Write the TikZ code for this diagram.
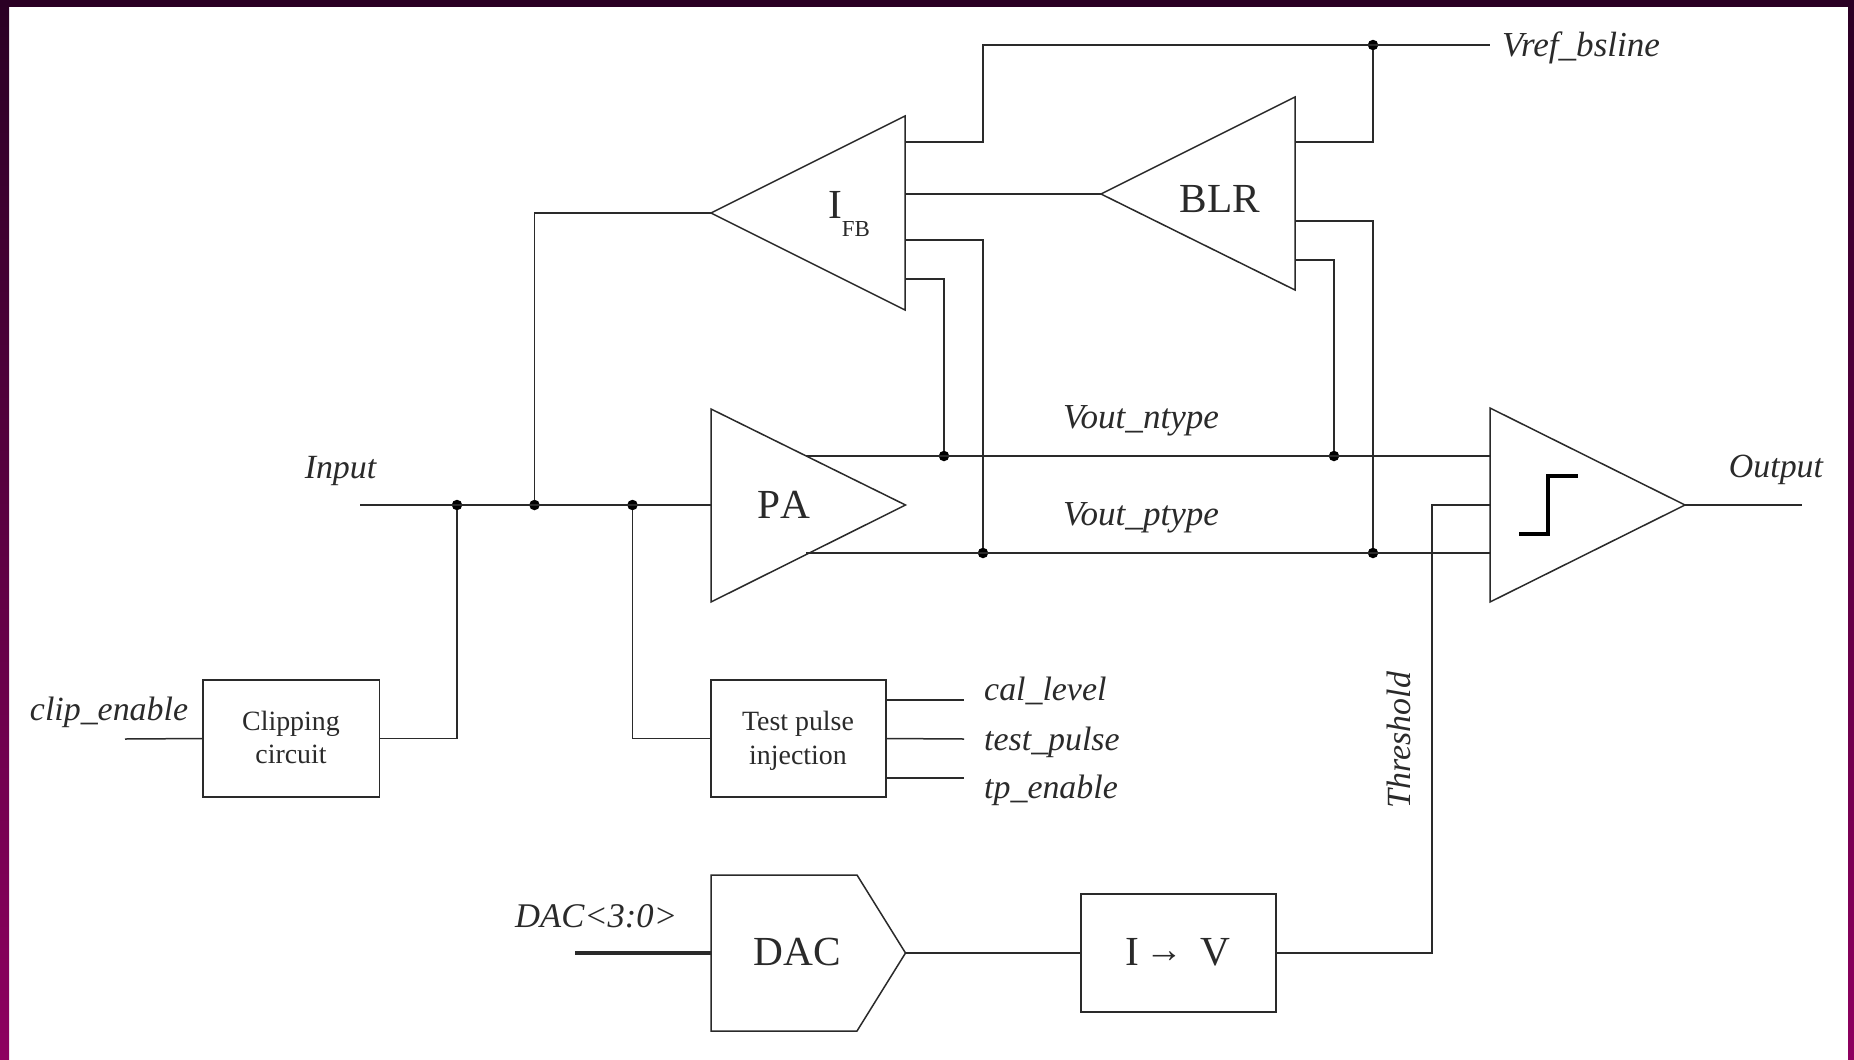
\documentclass[tikz,border=0pt]{standalone}
\usepackage{fontspec}
\setmainfont{Liberation Serif}
\definecolor{ink}{HTML}{2A2A2A}
\definecolor{edgetop}{HTML}{2A0024}
\definecolor{edgebot}{HTML}{8E0060}
\tikzset{
  wire/.style={draw=ink,line width=1.5bp,line join=miter},
  thickwire/.style={draw=ink,line width=4bp},
  block/.style={draw=ink,line width=1.5bp,fill=white,outer sep=0pt,inner sep=0pt},
  boxtext/.style={inner sep=0pt,align=center,font=\fontsize{28}{34}\selectfont,text=ink},
  dotmark/.style={circle,fill=black,inner sep=0pt,minimum size=10.5bp,outer sep=0pt},
  sig/.style={inner sep=0pt,font=\fontsize{34}{40}\selectfont\itshape,text=ink,anchor=base},
  sigwide/.style={sig,font=\fontsize{35.2}{40}\selectfont\itshape},
  sigleft/.style={sig,anchor=base west},
  big/.style={inner sep=0pt,font=\fontsize{41.5}{48}\selectfont,text=ink,anchor=base}
}
\begin{document}
\begin{tikzpicture}[x=1bp,y=-1bp]
\useasboundingbox (0,0) rectangle (1854,1059);
\fill[white] (0,0) rectangle (1854,1059);
\shade[top color=edgetop,bottom color=edgebot] (0,0) rectangle (9,1059);
\shade[top color=edgetop,bottom color=edgebot] (1848,0) rectangle (1854,1059);
\fill[edgetop] (0,0) rectangle (1854,7);

% triangle corners
\coordinate (fbT) at (905,116); \coordinate (fbB) at (905,310); \coordinate (fbA) at (711,213);
\coordinate (blT) at (1295,97); \coordinate (blB) at (1295,290); \coordinate (blA) at (1101,194);
\coordinate (paT) at (711,409); \coordinate (paB) at (711,602); \coordinate (paA) at (905.5,505);
\coordinate (cmT) at (1490,408); \coordinate (cmB) at (1490,602); \coordinate (cmA) at (1685,505);

% ports and junctions
\coordinate (fbO1) at (905,142); \coordinate (fbO2) at (905,194);
\coordinate (fbO3) at (905,240); \coordinate (fbO4) at (905,279);
\coordinate (blO1) at (1295,142); \coordinate (blO3) at (1295,221); \coordinate (blO4) at (1295,260);
\coordinate (cmI1) at (1490,456); \coordinate (cmI2) at (1490,505); \coordinate (cmI3) at (1490,553);
\coordinate (paO1) at (806,456); \coordinate (paO2) at (806,553);
\coordinate (inL) at (360,505); \coordinate (paI) at (711,505);
\coordinate (outR) at (1802,505);
\coordinate (vrefR) at (1490,45); \coordinate (vrefTurn) at (983,45);
\coordinate (clipL) at (125,739);
\coordinate (calR) at (964,700); \coordinate (tpR) at (964,739); \coordinate (enR) at (964,778);
\coordinate (calL) at (886,700); \coordinate (enL) at (886,778);
\coordinate (dacIn) at (575,953); \coordinate (dacA) at (905.5,953); \coordinate (dacL) at (711,953);
\coordinate (thrX) at (1432,953);

% blocks
\node[block,minimum width=176.5bp,minimum height=117bp] (clip) at (291,738.5) {};
\node[block,minimum width=175bp,minimum height=117bp] (tp) at (798.5,738.5) {};
\node[block,minimum width=195bp,minimum height=118bp] (iv) at (1178.5,953) {};

% dots
\node[dotmark] (d1) at (457,505) {};
\node[dotmark] (d2) at (534.5,505) {};
\node[dotmark] (d3) at (632.5,505) {};
\node[dotmark] (d4) at (944,456) {};
\node[dotmark] (d5) at (1334,456) {};
\node[dotmark] (d6) at (983,553) {};
\node[dotmark] (d7) at (1373,553) {};
\node[dotmark] (d8) at (1373,45) {};

% wires
\draw[wire] (inL) -- (paI);
\draw[wire] (d1) -- (d1 |- clip.east) -- (clip.east);
\draw[wire] (d2) -- (d2 |- fbA) -- (fbA);
\draw[wire] (d3) -- (d3 |- tp.west) -- (tp.west);
\draw[wire] (clipL) -- (clip.west);
\draw[wire] (calL) -- (calR);
\draw[wire] (tp.east) -- (tpR);
\draw[wire] (enL) -- (enR);
\draw[wire] (paO1) -- (cmI1);
\draw[wire] (paO2) -- (cmI3);
\draw[wire] (fbO1) -| (vrefTurn) -- (vrefR);
\draw[wire] (blO1) -| (d8);
\draw[wire] (fbO2) -- (blA);
\draw[wire] (fbO3) -| (d6);
\draw[wire] (fbO4) -| (d4);
\draw[wire] (blO3) -| (d7);
\draw[wire] (blO4) -| (d5);
\draw[wire] (cmA) -- (outR);
\draw[thickwire] (dacIn) -- (dacL);
\draw[wire] (dacA) -- (iv.west);
\draw[wire] (iv.east) -- (thrX) -- (thrX |- cmI2) -- (cmI2);

% triangles and DAC outline
\draw[wire] (fbT) -- (fbB) -- (fbA) -- cycle;
\draw[wire] (blT) -- (blB) -- (blA) -- cycle;
\draw[wire] (paT) -- (paB) -- (paA) -- cycle;
\draw[wire] (cmT) -- (cmB) -- (cmA) -- cycle;
\draw[wire] (711,875) -- (857,875) -- (dacA) -- (857,1031) -- (711,1031) -- cycle;
\draw[draw=black,line width=4.5bp,line join=miter] (1519,534) -- (1548,534) -- (1548,476) -- (1578,476);

% labels
\node[boxtext] (lclip) at (291,737.5) {Clipping\\circuit};
\node[boxtext] (ltpi) at (798,740.5) {Test pulse\\injection};
\node[big] (lfb) at (849,218) {I\raisebox{-18bp}{\fontsize{23}{28}\selectfont FB}};
\node[big] (lbl) at (1220,212.5) {BLR};
\node[big] (lpa) at (784,518) {\addfontfeature{Kerning=Off}PA};
\node[big] (ldac) at (797.5,965) {DAC};
\node[big] (liv) at (1178,965) {I\,{\fontsize{38}{38}\selectfont\raisebox{3bp}{→}}\, V};
\node[sig] (lin) at (340.5,478) {Input};
\node[sig] (lout) at (1776,477) {Output};
\node[sigwide,anchor=base west] (lvr) at (1502,56.5) {Vref\_bsline};
\node[sigwide] (lvn) at (1141,428) {Vout\_ntype};
\node[sigwide] (lvp) at (1141,525) {Vout\_ptype};
\node[sig] (lce) at (109,720) {clip\_enable};
\node[sigleft] (lcal) at (984,700) {cal\_level};
\node[sigleft] (ltp) at (984,750) {test\_pulse};
\node[sigleft] (len) at (984,798) {tp\_enable};
\node[sig,anchor=base west,font=\fontsize{34.7}{40}\selectfont\itshape] (ldi) at (515,927) {DAC<3:0>};
\node[sig,rotate=90] (lth) at (1410,740) {Threshold};
\end{tikzpicture}
\end{document}
